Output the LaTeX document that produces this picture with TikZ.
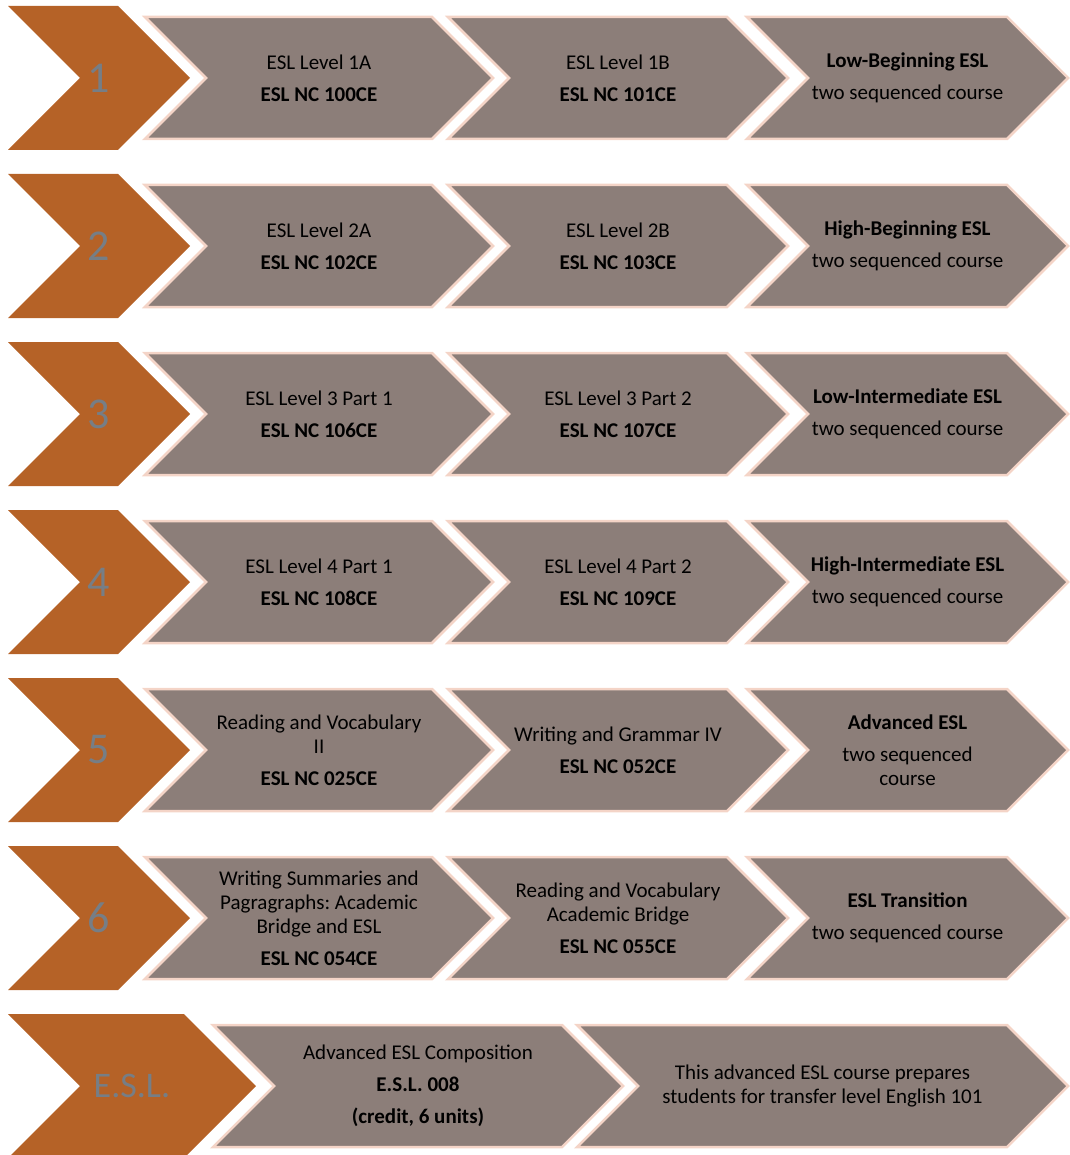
\documentclass[tikz,border=0pt]{standalone}
\usepackage{fontspec}
\setmainfont{Carlito}
\usepackage{tikz}
\usetikzlibrary{calc}
\frenchspacing

\definecolor{rust}{RGB}{181,98,39}
\definecolor{taupe}{RGB}{140,126,121}
\definecolor{blush}{RGB}{244,212,199}
\definecolor{slate}{RGB}{118,126,134}

\tikzset{
	levelbox/.style={fill=rust},
	coursebox/.style={fill=taupe, draw=blush, line width=2.5pt},
	levelnum/.style={text=slate, inner sep=0pt, font=\fontsize{44}{44}\selectfont},
	coursetxt/.style={align=center, inner sep=0pt, font=\fontsize{21}{24}\selectfont},
}

% chevron: name, left x, top right x, centre y, half height, style
\newcommand{\chevron}[6]{%
	\path[#6] (#2,#4-#5) -- (#3,#4-#5) -- (#3+#5,#4) -- (#3,#4+#5) -- (#2,#4+#5) -- (#2+#5,#4) -- cycle;
	\coordinate (#1) at ({(#2+#3+#5)/2},#4);
}

\begin{document}
\begin{tikzpicture}[x=1pt, y=-1pt]
\useasboundingbox (0,0) rectangle (1069,1155);

% six numbered levels
\foreach \n/\ta/\tb/\tc in {
	1/{ESL Level 1A\\[8pt]\textbf{ESL NC 100CE}}/{ESL Level 1B\\[8pt]\textbf{ESL NC 101CE}}/{\textbf{Low-Beginning ESL}\\[8pt]two sequenced course},
	2/{ESL Level 2A\\[8pt]\textbf{ESL NC 102CE}}/{ESL Level 2B\\[8pt]\textbf{ESL NC 103CE}}/{\textbf{High-Beginning ESL}\\[8pt]two sequenced course},
	3/{ESL Level 3 Part 1\\[8pt]\textbf{ESL NC 106CE}}/{ESL Level 3 Part 2\\[8pt]\textbf{ESL NC 107CE}}/{\textbf{Low-Intermediate ESL}\\[8pt]two sequenced course},
	4/{ESL Level 4 Part 1\\[8pt]\textbf{ESL NC 108CE}}/{ESL Level 4 Part 2\\[8pt]\textbf{ESL NC 109CE}}/{\textbf{High-Intermediate ESL}\\[8pt]two sequenced course},
	5/{Reading and Vocabulary\\II\\[8pt]\textbf{ESL NC 025CE}}/{Writing and Grammar IV\\[8pt]\textbf{ESL NC 052CE}}/{\textbf{Advanced ESL}\\[8pt]two sequenced\\course},
	6/{Writing Summaries and\\Pagragraphs: Academic\\Bridge and ESL\\[8pt]\textbf{ESL NC 054CE}}/{Reading and Vocabulary\\Academic Bridge\\[8pt]\textbf{ESL NC 055CE}}/{\textbf{ESL Transition}\\[8pt]two sequenced course}}
{
	\pgfmathsetmacro{\cy}{78+168*(\n-1)}
	\chevron{lv\n}{8}{118}{\cy}{72}{levelbox}
	\chevron{ca\n}{145}{432}{\cy}{61}{coursebox}
	\chevron{cb\n}{448}{727}{\cy}{61}{coursebox}
	\chevron{cc\n}{747}{1007}{\cy}{61}{coursebox}
	\node[levelnum] (num\n) at (lv\n) {\n};
	\node[coursetxt] (txa\n) at (ca\n) {\ta};
	\node[coursetxt] (txb\n) at (cb\n) {\tb};
	\node[coursetxt] (txc\n) at (cc\n) {\tc};
}

% credit course
\chevron{lvesl}{8}{184}{1086}{72}{levelbox}
\chevron{cdesl}{213}{562}{1086}{61}{coursebox}
\chevron{cdnote}{577}{1007}{1086}{61}{coursebox}
\node[levelnum, font=\fontsize{36}{36}\selectfont] (numesl) at (lvesl) {E.S.L.};
\node[coursetxt] (txesl) at (cdesl) {Advanced ESL Composition\\[8pt]\textbf{E.S.L. 008}\\[8pt]\textbf{(credit, 6 units)}};
\node[coursetxt] (txnote) at (cdnote) {This advanced ESL course prepares\\students for transfer level English 101};
\end{tikzpicture}
\end{document}
